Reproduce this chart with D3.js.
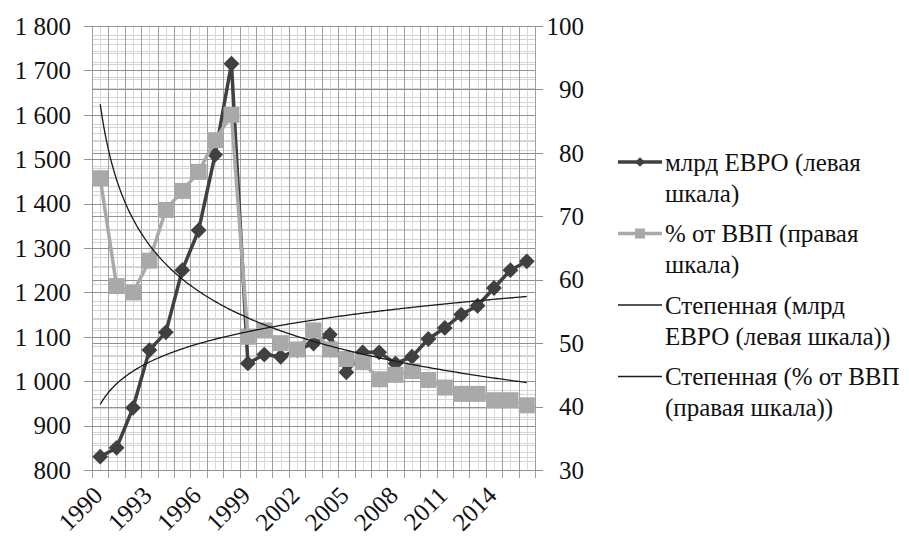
<!DOCTYPE html>
<html>
<head>
<meta charset="utf-8">
<script src="https://cdn.jsdelivr.net/npm/d3@7"></script>
</head>
<body style="margin:0">
<script>
// categories: one per year
const years = [1990, 1991, 1992, 1993, 1994, 1995, 1996, 1997, 1998, 1999,
  2000, 2001, 2002, 2003, 2004, 2005, 2006, 2007, 2008, 2009,
  2010, 2011, 2012, 2013, 2014, 2015, 2016];

// млрд ЕВРО (left scale)
const euroBn = [830, 850, 940, 1070, 1110, 1250, 1340, 1510, 1715, 1040,
  1060, 1055, 1070, 1085, 1105, 1020, 1065, 1065, 1040, 1055,
  1095, 1120, 1150, 1170, 1210, 1250, 1270];

// % от ВВП (right scale)
const pctGdp = [76, 59, 58, 63, 71, 74, 77, 82, 86, 51,
  52, 50, 49, 52, 49, 47.5, 47, 44.3, 45, 45.6,
  44.2, 43, 42, 42, 41, 41, 40.2];

const leftTicks = [800, 900, 1000, 1100, 1200, 1300, 1400, 1500, 1600, 1700, 1800];
const rightTicks = [30, 40, 50, 60, 70, 80, 90, 100];
const xTickYears = [1990, 1993, 1996, 1999, 2002, 2005, 2008, 2011, 2014];

const legendLabels = [
  ["млрд ЕВРО (левая", "шкала)"],
  ["% от ВВП (правая", "шкала)"],
  ["Степенная (млрд", "ЕВРО (левая шкала))"],
  ["Степенная (% от ВВП", "(правая шкала))"]
];

const W = 909, H = 536;
const plot = { left: 92, right: 535, top: 26, bottom: 470 };
const DARK = "#404040", LIGHT = "#a9a9a9";
const FS = 25;

const svg = d3.select("body").append("svg")
  .attr("width", W)
  .attr("height", H);

const x = d3.scaleBand().domain(years).range([plot.left, plot.right]).padding(0);
const bw = x.bandwidth();
const cx = d => x(d) + bw / 2;
const yL = d3.scaleLinear().domain([800, 1800]).range([plot.bottom, plot.top]);
const yR = d3.scaleLinear().domain([30, 100]).range([plot.bottom, plot.top]);

const fmt = d3.formatLocale({ decimal: ",", thousands: " ", grouping: [3], currency: ["", ""] }).format(",");

function addText(parent, str, tf, anchor) {
  return parent.append("text")
    .attr("font-size", FS)
    .style("font-family", `"Liberation Serif"`)
    .attr("fill", "#111")
    .attr("text-anchor", anchor)
    .attr("transform", tf)
    .attr("dy", "0.35em")
    .text(str);
}

// gridlines
const grid = svg.append("g");
// minor horizontal: left every 20, right every 2
grid.selectAll(".lmin").data(d3.range(800, 1801, 20)).join("line")
  .attr("x1", plot.left).attr("x2", plot.right)
  .attr("y1", d => Math.round(yL(d)) + 0.5).attr("y2", d => Math.round(yL(d)) + 0.5)
  .attr("stroke", "#d4d4d4");
grid.selectAll(".rmin").data(d3.range(30, 100.1, 2)).join("line")
  .attr("x1", plot.left).attr("x2", plot.right)
  .attr("y1", d => Math.round(yR(d)) + 0.5).attr("y2", d => Math.round(yR(d)) + 0.5)
  .attr("stroke", "#d4d4d4");
// minor vertical at category centers
grid.selectAll(".vmin").data(years).join("line")
  .attr("x1", d => Math.round(cx(d)) + 0.5).attr("x2", d => Math.round(cx(d)) + 0.5)
  .attr("y1", plot.top).attr("y2", plot.bottom)
  .attr("stroke", "#d8d8d8");
// major vertical at category boundaries (with ticks below axis)
grid.selectAll(".vmaj").data(years.concat([null])).join("line")
  .attr("x1", (d, i) => Math.round(plot.left + i * bw) + 0.5)
  .attr("x2", (d, i) => Math.round(plot.left + i * bw) + 0.5)
  .attr("y1", plot.top).attr("y2", plot.bottom + 8)
  .attr("stroke", "#a0a0a0");
// major horizontal: left (ticks out left), right (ticks out right)
grid.selectAll(".lmaj").data(leftTicks).join("line")
  .attr("x1", plot.left - 8).attr("x2", plot.right)
  .attr("y1", d => Math.round(yL(d)) + 0.5).attr("y2", d => Math.round(yL(d)) + 0.5)
  .attr("stroke", "#929292");
grid.selectAll(".rmaj").data(rightTicks).join("line")
  .attr("x1", plot.left).attr("x2", plot.right + 8)
  .attr("y1", d => Math.round(yR(d)) + 0.5).attr("y2", d => Math.round(yR(d)) + 0.5)
  .attr("stroke", "#929292");

// axis labels
leftTicks.forEach(d => addText(svg, fmt(d), `translate(71,${yL(d)})`, "end"));
rightTicks.forEach(d => addText(svg, d, `translate(584,${yR(d)})`, "end"));
xTickYears.forEach(d => addText(svg, d,
  `translate(${cx(d) + 4},${plot.bottom + 27}) rotate(-45)`, "end").attr("dy", null));

// power trendline (least squares on ln-ln, x = 1..n)
function powerFit(vals) {
  const n = vals.length;
  let sx = 0, sy = 0, sxx = 0, sxy = 0;
  vals.forEach((v, i) => {
    const lx = Math.log(i + 1), ly = Math.log(v);
    sx += lx; sy += ly; sxx += lx * lx; sxy += lx * ly;
  });
  const b = (n * sxy - sx * sy) / (n * sxx - sx * sx);
  const a = Math.exp((sy - b * sx) / n);
  return t => a * Math.pow(t, b);
}

// series lines and markers
const lineL = d3.line().x((d, i) => cx(years[i])).y(d => yL(d));
const lineR = d3.line().x((d, i) => cx(years[i])).y(d => yR(d));

svg.append("path").datum(euroBn)
  .attr("d", lineL).attr("fill", "none")
  .attr("stroke", DARK).attr("stroke-width", 3.5).attr("stroke-linejoin", "round");
svg.append("g").selectAll("path").data(euroBn).join("path")
  .attr("d", d3.symbol(d3.symbolDiamond2, 160))
  .attr("transform", (d, i) => `translate(${cx(years[i])},${yL(d)})`)
  .attr("fill", DARK);

svg.append("path").datum(pctGdp)
  .attr("d", lineR).attr("fill", "none")
  .attr("stroke", LIGHT).attr("stroke-width", 3.5).attr("stroke-linejoin", "round");
svg.append("g").selectAll("rect").data(pctGdp).join("rect")
  .attr("x", (d, i) => cx(years[i]) - 8).attr("y", d => yR(d) - 8)
  .attr("width", 16).attr("height", 16)
  .attr("fill", LIGHT);

// trendlines on top
const fitL = powerFit(euroBn), fitR = powerFit(pctGdp);
const ts = d3.range(1, years.length + 0.001, 0.1);
const tx = t => cx(years[0]) + (t - 1) * bw;
svg.append("path").datum(ts)
  .attr("d", d3.line().x(tx).y(t => yL(fitL(t))))
  .attr("fill", "none").attr("stroke", "#1a1a1a").attr("stroke-width", 1.3);
svg.append("path").datum(ts)
  .attr("d", d3.line().x(tx).y(t => yR(fitR(t))))
  .attr("fill", "none").attr("stroke", "#1a1a1a").attr("stroke-width", 1.3);

// legend
const legY = [162, 233.5, 305, 376.5];
legendLabels.forEach((lines, k) => {
  const y0 = legY[k];
  if (k === 0) {
    svg.append("line").attr("x1", 618).attr("x2", 662).attr("y1", y0).attr("y2", y0)
      .attr("stroke", DARK).attr("stroke-width", 3.5);
    svg.append("path").attr("d", d3.symbol(d3.symbolDiamond2, 60))
      .attr("transform", `translate(640,${y0})`).attr("fill", DARK);
  } else if (k === 1) {
    svg.append("line").attr("x1", 618).attr("x2", 662).attr("y1", y0).attr("y2", y0)
      .attr("stroke", LIGHT).attr("stroke-width", 3.5);
    svg.append("rect").attr("x", 635).attr("y", y0 - 5).attr("width", 10).attr("height", 10)
      .attr("fill", LIGHT);
  } else {
    svg.append("line").attr("x1", 618).attr("x2", 662).attr("y1", y0).attr("y2", y0)
      .attr("stroke", "#1a1a1a").attr("stroke-width", 1.3);
  }
  lines.forEach((s, j) => addText(svg, s, `translate(665,${y0 + j * 31})`, "start"));
});
</script>
</body>
</html>
